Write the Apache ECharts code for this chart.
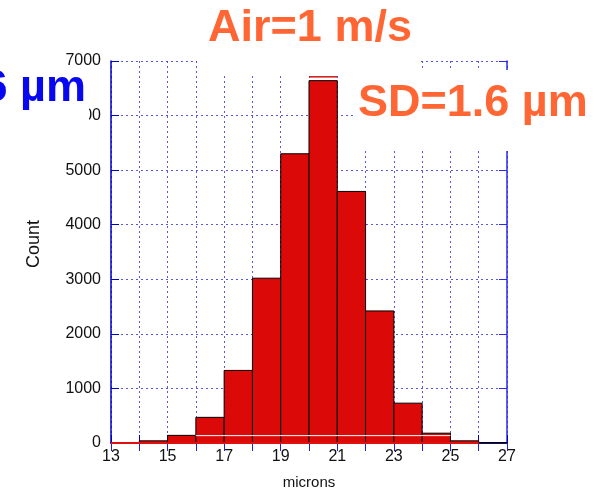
<!DOCTYPE html>
<html>
<head>
<meta charset="utf-8">
<script src="https://cdn.jsdelivr.net/npm/echarts@6/dist/echarts.min.js"></script>
<style>html,body{margin:0;padding:0;background:#fff}#c{width:610px;height:495px}</style>
</head>
<body>
<div id="c"></div>
<script>
// Histogram bins (microns): left edges, bin width, counts
var binStarts = [13, 14, 15, 16, 17, 18, 19, 20, 21, 22, 23, 24, 25, 26];
var binWidth = 1;
var counts = [5, 40, 140, 470, 1330, 3020, 5300, 6640, 4610, 2420, 730, 180, 40, 8];
// overlay outline marks
var peakOutline = [[20, 6710], [21, 6710]];
var baseOutline = [[13, 0], [26, 0]];
var innerLine = [[16, 135], [25, 135]];
var xTicks = [13, 15, 17, 19, 21, 23, 25, 27];
var yTicks = [0, 1000, 2000, 3000, 4000, 5000, 6000, 7000];

var FONT = '"Liberation Sans", Arial, Helvetica, sans-serif';
var gridDot = { color: '#3b3bdc', width: 1, type: [2, 3], opacity: 0.85 };

var chart = echarts.init(document.getElementById('c'), null, { renderer: 'canvas' });
var histData = binStarts.map(function (s, i) { return [s, s + binWidth, counts[i]]; });

var option = {
  backgroundColor: '#fff',
  animation: false,
  grid: { left: 111, right: 103, top: 61, bottom: 50 },
  xAxis: [{
    type: 'value', min: 13, max: 27, interval: 1, position: 'bottom',
    name: 'microns', nameLocation: 'middle', nameGap: 32,
    nameTextStyle: { fontFamily: FONT, fontSize: 15, color: '#111' },
    axisLine: { show: true, lineStyle: { color: '#0000c0', width: 1.5 } },
    axisTick: { show: true, inside: true, length: 8, lineStyle: { color: '#0000c0' } },
    axisLabel: {
      margin: 6, fontFamily: FONT, fontSize: 16, color: '#111',
      formatter: function (v) { return xTicks.indexOf(v) >= 0 ? String(v) : ''; }
    },
    splitLine: { show: true, lineStyle: gridDot }
  }, {
    type: 'value', min: 13, max: 27, interval: 1, position: 'top',
    axisLine: { show: true, lineStyle: { color: '#2020e0', width: 1.5 } },
    axisTick: { show: true, inside: true, length: 8, lineStyle: { color: '#2020e0' } },
    axisLabel: { show: false }, splitLine: { show: false }
  }],
  yAxis: [{
    type: 'value', min: 0, max: 7000, interval: 1000, position: 'left',
    axisLine: { show: true, lineStyle: { color: '#0000c0', width: 1.5 } },
    axisTick: { show: true, inside: true, length: 8, lineStyle: { color: '#0000c0' } },
    axisLabel: {
      margin: 10, fontFamily: FONT, fontSize: 16, color: '#111',
      formatter: function (v) { return yTicks.indexOf(v) >= 0 ? String(v) : ''; }
    },
    splitLine: { show: true, lineStyle: gridDot }
  }, {
    type: 'value', min: 0, max: 7000, interval: 1000, position: 'right',
    axisLine: { show: true, lineStyle: { color: '#2a2ae8', width: 1.5 } },
    axisTick: { show: true, inside: true, length: 8, lineStyle: { color: '#2a2ae8' } },
    axisLabel: { show: false }, splitLine: { show: false }
  }],
  series: [{
    type: 'custom',
    xAxisIndex: 0, yAxisIndex: 0,
    data: histData,
    encode: { x: [0, 1], y: 2 },
    renderItem: function (params, api) {
      var p0 = api.coord([api.value(0), api.value(2)]);
      var p1 = api.coord([api.value(1), 0]);
      return {
        type: 'rect',
        shape: { x: p0[0], y: p0[1], width: p1[0] - p0[0], height: p1[1] - p0[1] },
        style: { fill: '#dc0909', stroke: '#000', lineWidth: 1 }
      };
    },
    z: 2
  }, {
    type: 'line', data: innerLine, showSymbol: false, clip: false,
    lineStyle: { color: '#fff', width: 1 }, z: 3, silent: true
  }, {
    type: 'line', data: peakOutline, showSymbol: false, clip: false,
    lineStyle: { color: '#d01010', width: 1.5 }, z: 3, silent: true
  }, {
    type: 'line', data: baseOutline, showSymbol: false, clip: false,
    lineStyle: { color: '#e01010', width: 2 }, z: 3, silent: true
  }],
  graphic: [
    { type: 'rect', z: 100, shape: { x: 197, y: 0, width: 223, height: 76 }, style: { fill: '#fff' } },
    { type: 'text', z: 101, x: 310, y: 29, style: { text: 'Air=1 m/s', font: 'bold 45px ' + FONT, fill: '#ff6633', align: 'center', verticalAlign: 'middle' } },
    { type: 'rect', z: 100, shape: { x: 355, y: 70, width: 255, height: 81 }, style: { fill: '#fff' } },
    { type: 'text', z: 101, x: 358, y: 104, style: { text: 'SD=1.6 µm', font: 'bold 45px ' + FONT, fill: '#ff6633', align: 'left', verticalAlign: 'middle' } },
    { type: 'rect', z: 100, shape: { x: 0, y: 69, width: 89, height: 60 }, style: { fill: '#fff' } },
    { type: 'text', z: 101, x: 86, y: 89, style: { text: '6 µm', font: 'bold 45px ' + FONT, fill: '#0808f0', align: 'right', verticalAlign: 'middle' } },
    { type: 'text', z: 101, x: 34, y: 244, rotation: Math.PI / 2, style: { text: 'Count', font: '18px ' + FONT, fill: '#111', align: 'center', verticalAlign: 'middle' } }
  ]
};
chart.setOption(option);
</script>
</body>
</html>
